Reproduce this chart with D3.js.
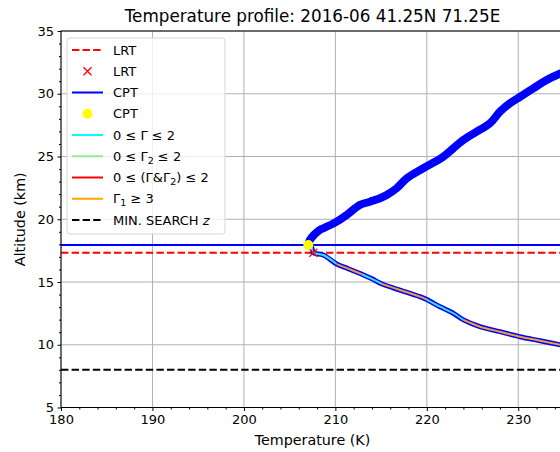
<!DOCTYPE html>
<html>
<head>
<meta charset="utf-8">
<script src="https://cdn.jsdelivr.net/npm/d3@7"></script>
<style>
  body { margin: 0; background: #fff; }
  svg text { font-family: "DejaVu Sans", sans-serif; fill: #000; }
</style>
</head>
<body>
<div id="chart"></div>
<script>
// profile above the cold point (K, km)
var upT = [207.04, 207.22, 208.32, 208.68, 209.96, 211.24, 212.15, 212.69, 213.78, 214.88, 215.61, 216.70, 217.80, 219.61, 221.80, 222.89, 223.99, 225.45, 226.91, 228.0, 229.09, 230.19, 231.64, 233.10, 235.0];
var upZ = [17.95, 18.35, 19.16, 19.28, 19.73, 20.34, 20.87, 21.14, 21.40, 21.67, 21.93, 22.47, 23.26, 24.06, 24.98, 25.65, 26.31, 26.98, 27.65, 28.57, 29.24, 29.76, 30.43, 31.10, 31.75];

// profile below the cold point
var lowT = [207.04, 207.41, 207.59, 208.68, 210.14, 211.4, 212.9, 214.0, 215.1, 217.07, 219.25, 220.0, 221.44, 222.8, 224.0, 225.81, 228.0, 230.19, 232.37, 235.0];
var lowZ = [17.95, 17.76, 17.33, 17.15, 16.43, 16.06, 15.62, 15.25, 14.84, 14.36, 13.83, 13.60, 13.03, 12.55, 11.98, 11.44, 11.04, 10.64, 10.32, 9.93];
// lapse rate class of each segment i -> i+1 (c: 0<=G<=2, o: G1>=3)
var lowFlag = ["", "c", "c", "c", "o", "o", "c", "c", "o", "o", "o", "c", "c", "c", "o", "o", "o", "o", "o"];

var lrtT = 207.59, lrtZ = 17.33;
var cptT = 207.04, cptZ = 17.95;
var minSearchZ = 8.0;

var xTicks = [180, 190, 200, 210, 220, 230];
var yTicks = [5, 10, 15, 20, 25, 30, 35];

var legendItems = [
  { kind: "line", color: "#ff0000", dash: true, label: ["LRT"] },
  { kind: "x", color: "#ff0000", label: ["LRT"] },
  { kind: "line", color: "#0000ff", label: ["CPT"] },
  { kind: "dot", color: "#ffff00", label: ["CPT"] },
  { kind: "line", color: "#00ffff", label: ["0 ≤ Γ ≤ 2"] },
  { kind: "line", color: "#90ee90", label: ["0 ≤ Γ", "2", " ≤ 2"] },
  { kind: "line", color: "#ff0000", label: ["0 ≤ (Γ&Γ", "2", ") ≤ 2"] },
  { kind: "line", color: "#ffa500", label: ["Γ", "1", " ≥ 3"] },
  { kind: "line", color: "#000000", dash: true, label: ["MIN. SEARCH ", "z"], italicLast: true }
];

var W = 560, H = 452;
var svg = d3.select("#chart").append("svg")
  .attr("width", W).attr("height", H);

// axes box: right edge falls just outside the picture
var mL = 61, mR = 564, mT = 31, mB = 407.5;
var x = d3.scaleLinear().domain([180, 235]).range([mL, mR]);
var y = d3.scaleLinear().domain([5, 35]).range([mB, mT]);

svg.append("defs").append("clipPath").attr("id", "clip")
  .append("rect").attr("x", mL).attr("y", mT)
  .attr("width", mR - mL).attr("height", mB - mT);

// grid
var grid = svg.append("g");
grid.selectAll(".gx").data(xTicks).enter().append("line")
  .attr("x1", d => x(d)).attr("x2", d => x(d))
  .attr("y1", mT).attr("y2", mB)
  .attr("stroke", "#b0b0b0").attr("stroke-width", 1);
grid.selectAll(".gy").data(yTicks).enter().append("line")
  .attr("x1", mL).attr("x2", mR)
  .attr("y1", d => y(d)).attr("y2", d => y(d))
  .attr("stroke", "#b0b0b0").attr("stroke-width", 1);

var plot = svg.append("g").attr("clip-path", "url(#clip)");
var line = d3.line().x(d => x(d[0])).y(d => y(d[1])).curve(d3.curveCatmullRom);

// horizontal reference lines
plot.append("line")
  .attr("x1", mL).attr("x2", mR)
  .attr("y1", y(cptZ)).attr("y2", y(cptZ))
  .attr("stroke", "#0000ff").attr("stroke-width", 1.8);
plot.append("line")
  .attr("x1", mL).attr("x2", mR)
  .attr("y1", y(lrtZ)).attr("y2", y(lrtZ))
  .attr("stroke", "#ff0000").attr("stroke-width", 2)
  .attr("stroke-dasharray", "7.4,3.2");
plot.append("line")
  .attr("x1", mL).attr("x2", mR)
  .attr("y1", y(minSearchZ)).attr("y2", y(minSearchZ))
  .attr("stroke", "#000").attr("stroke-width", 2)
  .attr("stroke-dasharray", "7.4,3.2");

// temperature profile
var upPts = upT.map((t, i) => [t, upZ[i]]);
var lowPts = lowT.map((t, i) => [t, lowZ[i]]);
plot.append("path").attr("d", line(upPts))
  .attr("fill", "none").attr("stroke", "#0000ff")
  .attr("stroke-width", 8).attr("stroke-linecap", "round");
plot.append("path").attr("d", line(lowPts))
  .attr("fill", "none").attr("stroke", "#0000ff")
  .attr("stroke-width", 5).attr("stroke-linecap", "round");

// lapse-rate overlays, joined runs of the same class
var flagColor = { c: "#40e0d0", o: "#f0a030" };
var runs = [];
lowFlag.forEach(function (f, i) {
  if (!f) return;
  var last = runs[runs.length - 1];
  if (last && last.f === f && last.end === i) { last.pts.push(lowPts[i + 1]); last.end = i + 1; }
  else runs.push({ f: f, pts: [lowPts[i], lowPts[i + 1]], end: i + 1 });
});
plot.selectAll(".run").data(runs).enter().append("path")
  .attr("d", d => line(d.pts))
  .attr("fill", "none").attr("stroke", d => flagColor[d.f])
  .attr("stroke-width", 2);

// LRT and CPT markers
plot.append("path")
  .attr("transform", "translate(" + x(lrtT) + "," + y(lrtZ) + ")")
  .attr("d", "M-4,-4L4,4M-4,4L4,-4")
  .attr("stroke", "#ff0000").attr("stroke-width", 1.3);
plot.append("circle")
  .attr("cx", x(cptT)).attr("cy", y(cptZ)).attr("r", 5)
  .attr("fill", "#ffff00");

// spines
svg.append("rect").attr("x", mL).attr("y", mT)
  .attr("width", mR - mL).attr("height", mB - mT)
  .attr("fill", "none").attr("stroke", "#000").attr("stroke-width", 1);

// axes
svg.append("g").attr("transform", "translate(0," + mB + ")")
  .call(d3.axisBottom(x).tickValues(xTicks).tickSize(3.5).tickPadding(3.5).tickFormat(d3.format("d")));
svg.append("g").attr("transform", "translate(0," + mB + ")")
  .call(d3.axisBottom(x).tickValues(d3.range(180, 236, 2).filter(v => v % 10)).tickSize(2).tickFormat(""));
svg.append("g").attr("transform", "translate(" + mL + ",0)")
  .call(d3.axisLeft(y).tickValues(yTicks).tickSize(3.5).tickPadding(3.5).tickFormat(d3.format("d")));
svg.append("g").attr("transform", "translate(" + mL + ",0)")
  .call(d3.axisLeft(y).tickValues(d3.range(5, 36, 1).filter(v => v % 5)).tickSize(2).tickFormat(""));
svg.selectAll(".domain").remove();
svg.selectAll(".tick text").attr("font-size", 13).attr("font-family", "DejaVu Sans");
svg.selectAll(".tick line").attr("stroke", "#000").attr("stroke-width", 1);

// titles
svg.append("text").attr("x", (mL + mR) / 2).attr("y", 22)
  .attr("text-anchor", "middle").attr("font-size", 16.8)
  .text("Temperature profile: 2016-06 41.25N 71.25E");
svg.append("text").attr("x", (mL + mR) / 2).attr("y", 445)
  .attr("text-anchor", "middle").attr("font-size", 14.3)
  .text("Temperature (K)");
svg.append("text")
  .attr("transform", "translate(25," + (mT + mB) / 2 + ") rotate(-90)")
  .attr("text-anchor", "middle").attr("font-size", 14.3)
  .text("Altitude (km)");

// legend
var lg = svg.append("g");
lg.append("rect").attr("x", 67).attr("y", 38).attr("width", 158).attr("height", 196)
  .attr("rx", 3).attr("fill", "#fff").attr("fill-opacity", 0.8)
  .attr("stroke", "#d6d6d6").attr("stroke-width", 1);
var items = lg.selectAll(".item").data(legendItems).enter().append("g")
  .attr("transform", (d, i) => "translate(0," + (50 + i * 21.25) + ")");
items.each(function (d) {
  var g = d3.select(this);
  if (d.kind === "line") {
    g.append("line").attr("x1", 72).attr("x2", 103).attr("y1", 0).attr("y2", 0)
      .attr("stroke", d.color).attr("stroke-width", 2)
      .attr("stroke-dasharray", d.dash ? "7.4,3.2" : null);
  } else if (d.kind === "x") {
    g.append("path").attr("transform", "translate(87.5,0)")
      .attr("d", "M-4,-4L4,4M-4,4L4,-4")
      .attr("stroke", d.color).attr("stroke-width", 1.3);
  } else {
    g.append("circle").attr("cx", 87.5).attr("cy", 0).attr("r", 5).attr("fill", d.color);
  }
  var t = g.append("text").attr("x", 113).attr("y", 4.5).attr("font-size", 13);
  d.label.forEach(function (s, j) {
    var sp = t.append("tspan").text(s);
    if (d.italicLast && j === d.label.length - 1) sp.attr("font-style", "italic");
    else if (j === 1) sp.attr("font-size", 9.5).attr("dy", 3);
    else if (j === 2) sp.attr("dy", -3);
  });
});
</script>
</body>
</html>
